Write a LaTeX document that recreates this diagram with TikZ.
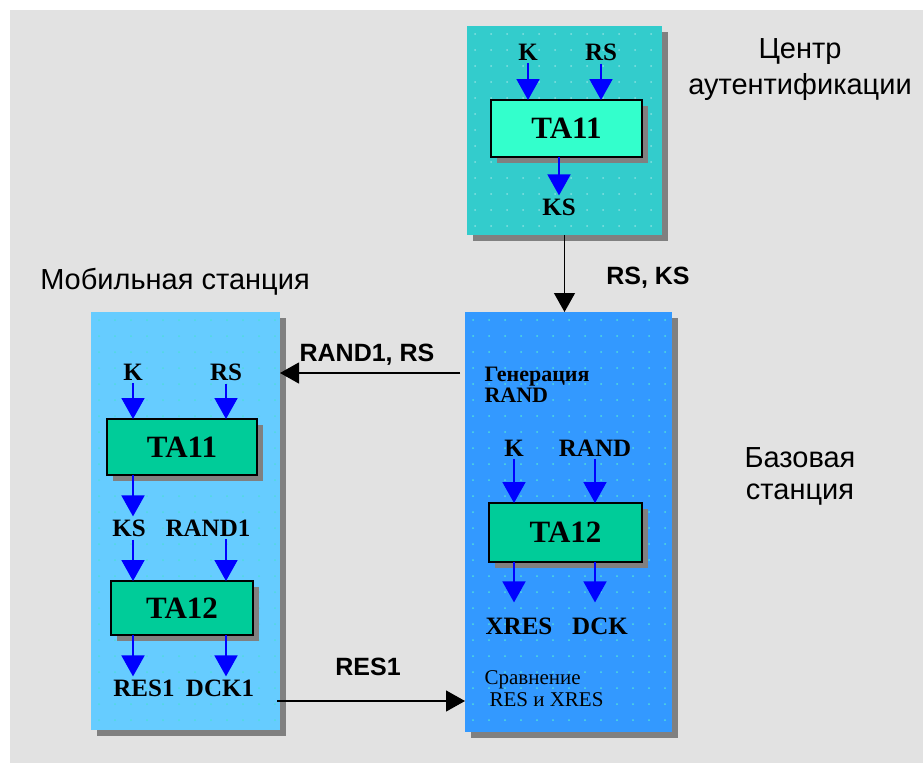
\documentclass[tikz,border=0pt]{standalone}
\usepackage{fontspec}
\setmainfont{Liberation Serif}
\setsansfont{Liberation Sans}
\usetikzlibrary{arrows.meta,shadows}

\definecolor{bggray}{RGB}{226,226,226}
\definecolor{shadowgray}{RGB}{128,128,128}
\definecolor{authfill}{RGB}{51,204,204}
\definecolor{authta}{RGB}{51,255,204}
\definecolor{mobfill}{RGB}{102,204,255}
\definecolor{basefill}{RGB}{51,153,255}
\definecolor{tafill}{RGB}{0,204,153}
\definecolor{dotc}{RGB}{80,220,220}

\begin{document}
\begin{tikzpicture}[
    x=1pt, y=-1pt,
    zone/.style={inner sep=0pt, outer sep=0pt,
        drop shadow={shadow xshift=6pt, shadow yshift=-6pt, fill=shadowgray, opacity=1}},
    ta/.style={draw=black, line width=1.6pt, inner sep=0pt, outer sep=0pt, fill=tafill,
        font=\fontsize{31}{33}\selectfont\bfseries,
        drop shadow={shadow xshift=6pt, shadow yshift=-6pt, fill=shadowgray, opacity=1}},
    sig/.style={inner sep=3pt, font=\fontsize{25}{27}\selectfont\bfseries},
    zonelbl/.style={align=center, font=\sffamily\fontsize{29}{36}\selectfont},
    msg/.style={font=\sffamily\bfseries\fontsize{25}{27}\selectfont},
    feed/.style={blue, line width=1.8pt, -{Triangle[width=23pt,length=21pt]}},
    link/.style={black, line width=1.2pt, -{Triangle[width=21pt,length=19pt]}},
]

% Canvas
\useasboundingbox (0,0) rectangle (923,763);
\fill[white] (0,0) rectangle (923,763);
\fill[bggray] (10,10) rectangle (923,763);

% Station blocks
\node[zone, fill=authfill, minimum width=195pt, minimum height=209pt] (auth) at (564.5,130.5) {};
\node[zone, fill=mobfill, minimum width=189pt, minimum height=418pt] (mob) at (185.5,521) {};
\node[zone, fill=basefill, minimum width=207pt, minimum height=420pt] (base) at (568.5,522) {};

% Dot grid on the blocks
\foreach \x in {475,491,...,655} \foreach \y in {34,50,...,226}
    \fill[white!40!authfill] (\x,\y) circle (1pt);
\foreach \x in {99,115,...,275} \foreach \y in {320,336,...,720}
    \fill[dotc] (\x,\y) circle (1pt);
\foreach \x in {473,489,...,665} \foreach \y in {320,336,...,724}
    \fill[dotc] (\x,\y) circle (1pt);

% Algorithm boxes
\node[ta, fill=authta, minimum width=151pt, minimum height=57pt] (aTA) at (566.5,128.5) {TA11};
\node[ta, minimum width=150pt, minimum height=56pt] (mTA1) at (182,447) {TA11};
\node[ta, minimum width=142pt, minimum height=54pt] (mTA2) at (182,608) {TA12};
\node[ta, minimum width=153pt, minimum height=59pt] (bTA) at (565.5,532.5) {TA12};

% Authentication centre
\node[sig] (aK) at (528,52) {K};
\node[sig] (aRS) at (601,52) {RS};
\node[sig] (aKS) at (559,207) {KS};
\draw[feed] (aK.south) -- (aK.south |- aTA.north);
\draw[feed] (aRS.south) -- (aRS.south |- aTA.north);
\draw[feed] (aKS |- aTA.south) -- (aKS.north);

% Mobile station
\node[sig] (mK) at (133,372) {K};
\node[sig] (mRS) at (226,372) {RS};
\node[sig] (mKS) at (129,528) {KS};
\node[sig] (mRAND) at (208,528) {RAND1};
\node[sig] (mRES) at (144,688) {RES1};
\node[sig] (mDCK) at (220,688) {DCK1};
\draw[feed] (mK.south) -- (mK.south |- mTA1.north);
\draw[feed] (mRS.south) -- (mRS.south |- mTA1.north);
\draw[feed] (mK |- mTA1.south) -- (mK |- mKS.north);
\draw[feed] (mK |- mKS.south) -- (mK |- mTA2.north);
\draw[feed] (mRS |- mRAND.south) -- (mRS |- mTA2.north);
\draw[feed] (mK |- mTA2.south) -- (mK |- mRES.north);
\draw[feed] (mRS |- mTA2.south) -- (mRS |- mDCK.north);

% Base station
\node[anchor=west, align=left, font=\fontsize{22}{21}\selectfont\bfseries] (gen) at (481,385) {Генерация\\RAND};
\node[sig] (bK) at (514,448) {K};
\node[sig] (bRAND) at (595,448) {RAND};
\node[sig] (bX) at (519,626) {XRES};
\node[sig] (bDCK) at (600,626) {DCK};
\node[anchor=west, align=left, font=\fontsize{21}{22}\selectfont] (cmp) at (481,689) {Сравнение\\\hspace*{5pt}RES и XRES};
\draw[feed] (bK.south) -- (bK.south |- bTA.north);
\draw[feed] (bRAND.south) -- (bRAND.south |- bTA.north);
\draw[feed, shorten >=12pt] (bK |- bTA.south) -- (bK |- bX.north);
\draw[feed, shorten >=12pt] (bRAND |- bTA.south) -- (bRAND |- bDCK.north);

% Block titles
\node[zonelbl] (authlbl) at (800,70) {Центр\\аутентификации};
\node[zonelbl] (moblbl) at (175,282) {Мобильная станция};
\node[zonelbl, font=\sffamily\fontsize{29}{32}\selectfont] (baselbl) at (800,476) {Базовая\\станция};

% Messages between stations
\coordinate (randin) at (460,373);
\coordinate (resout) at (277,701);
\draw[link] (auth.south) -- (auth.south |- base.north);
\node[msg] (rsks) at (648,278) {RS, KS};
\draw[link] (randin) -- (randin -| mob.east);
\node[msg] (randmsg) at (367,355) {RAND1, RS};
\draw[link] (resout) -- (resout -| base.west);
\node[msg] (resmsg) at (368,667) {RES1};

\end{tikzpicture}
\end{document}
